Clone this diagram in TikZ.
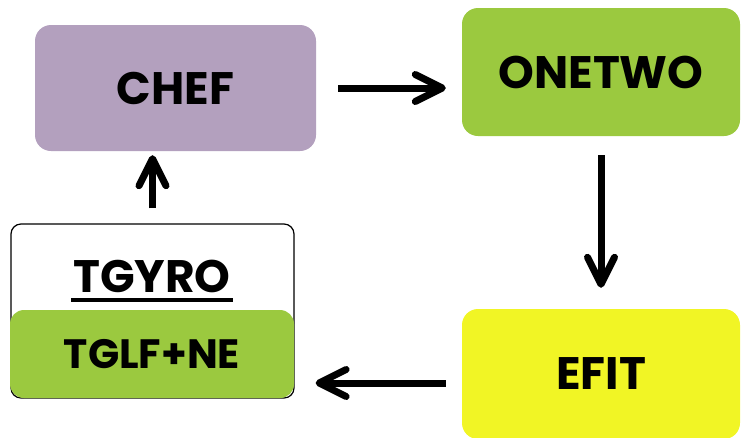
\documentclass[tikz,border=0pt]{standalone}
\usepackage{fontspec}
\setmainfont{Poppins}
\usetikzlibrary{arrows.meta}
\definecolor{lavender}{HTML}{B3A0BE}
\definecolor{leaf}{HTML}{9BC93F}
\definecolor{lemon}{HTML}{F1F525}
\tikzset{
  box/.style={rounded corners=16pt, inner sep=0pt, font=\fontsize{45.5}{45.5}\selectfont\bfseries},
  arr/.style={line width=7pt, -{Straight Barb[length=27pt, width=27pt, round]}},
}
\begin{document}
\begin{tikzpicture}[x=1pt, y=-1pt]
  \useasboundingbox (0,0) rectangle (741,437);
  % process boxes
  \node[box, fill=lavender, minimum width=281pt, minimum height=126pt] (chef) at (175.5,88) {CHEF};
  \node[box, fill=leaf, minimum width=278pt, minimum height=128pt] (onetwo) at (601,72) {ONETWO};
  \node[box, fill=lemon, minimum width=278pt, minimum height=130pt] (efit) at (601,374) {EFIT};
  % TGYRO container with its TGLF+NE model box
  \node[box, draw=black, line width=1.2pt, fill=white, rounded corners=10pt,
        minimum width=283pt, minimum height=174pt] (tgyro) at (152.5,311) {};
  \node[box, fill=leaf, rounded corners=14pt, minimum width=284pt, minimum height=88pt,
        font=\fontsize{41}{41}\selectfont\bfseries] (tglf) at (152,354) {TGLF+NE};
  \node[font=\fontsize{45.5}{45.5}\selectfont\bfseries, anchor=base, inner sep=0pt] (tgyrotext) at (152,292) {TGYRO};
  \draw[line width=4pt] ([xshift=-2pt,yshift=-8pt]tgyrotext.base west) -- ([xshift=2pt,yshift=-8pt]tgyrotext.base east);
  % cycle of arrows
  \draw[arr] ([xshift=22pt]chef.east) -- ([xshift=-16pt]onetwo.west |- chef.east);
  \draw[arr] ([yshift=-19pt]onetwo.south) -- ([yshift=21pt]efit.north);
  \draw[arr] ([xshift=-16pt,yshift=-9pt]efit.west) -- ([xshift=21pt,yshift=-9pt]tgyro.east |- efit.west);
  \draw[arr] ([yshift=15pt]tgyro.north) -- ([yshift=-4pt]tgyro.north |- chef.south);
\end{tikzpicture}
\end{document}
